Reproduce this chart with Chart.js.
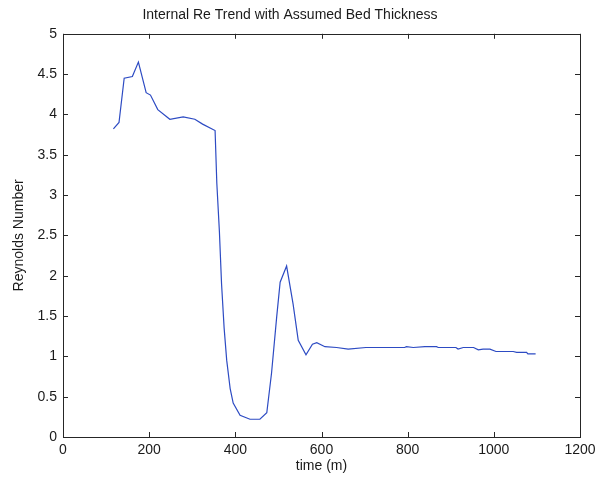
<!DOCTYPE html>
<html>
<head>
<meta charset="utf-8">
<title>Internal Re Trend</title>
<script src="https://cdn.jsdelivr.net/npm/chart.js@4/dist/chart.umd.min.js"></script>
<style>
  html, body { margin: 0; padding: 0; background: #fff; }
  #wrap { width: 597px; height: 483px; }
</style>
</head>
<body>
<div id="wrap"><canvas id="reChart" width="597" height="483"></canvas></div>
<script>
// time in minutes, Reynolds number at each sample
const timeMin = [117, 130, 142, 161, 175, 193, 203, 220, 248, 279, 306, 324, 353,
  357, 363, 368, 374, 380, 388, 395, 411, 434, 457, 473, 484, 496, 504, 519,
  534, 546, 564, 579, 589, 608, 635, 662, 703, 793, 797, 813, 840, 867, 871,
  912, 917, 929, 953, 964, 975, 991, 1005, 1045, 1053, 1076, 1079, 1097];
const reynolds = [3.82, 3.90, 4.45, 4.47, 4.65, 4.27, 4.24, 4.06, 3.94, 3.97, 3.94, 3.88, 3.80,
  3.15, 2.55, 1.90, 1.35, 0.95, 0.60, 0.42, 0.27, 0.22, 0.22, 0.30, 0.79, 1.49, 1.92, 2.12,
  1.65, 1.20, 1.02, 1.15, 1.17, 1.12, 1.11, 1.09, 1.11, 1.11, 1.12, 1.11, 1.12, 1.12, 1.11,
  1.11, 1.09, 1.11, 1.11, 1.08, 1.09, 1.09, 1.06, 1.06, 1.05, 1.05, 1.03, 1.03];

const xTicks = [0, 200, 400, 600, 800, 1000, 1200];
const yTicks = [0, 0.5, 1, 1.5, 2, 2.5, 3, 3.5, 4, 4.5, 5];

const FONT = 'Liberation Sans, Arial, sans-serif';
const TEXT_COLOR = '#1a1a1a';
const AXIS_COLOR = '#262626';

// box round the plot area with short ticks pointing inward on all four sides
const boxTicks = {
  id: 'boxTicks',
  afterDraw(chart) {
    const { ctx, chartArea: a, scales } = chart;
    const len = 5;
    ctx.save();
    ctx.strokeStyle = AXIS_COLOR;
    ctx.lineWidth = 1;
    ctx.beginPath();
    xTicks.forEach(v => {
      const x = Math.round(scales.x.getPixelForValue(v)) + 0.5;
      ctx.moveTo(x, a.bottom); ctx.lineTo(x, a.bottom - len);
      ctx.moveTo(x, a.top); ctx.lineTo(x, a.top + len);
    });
    yTicks.forEach(v => {
      const y = Math.round(scales.y.getPixelForValue(v)) + 0.5;
      ctx.moveTo(a.left, y); ctx.lineTo(a.left + len, y);
      ctx.moveTo(a.right, y); ctx.lineTo(a.right - len, y);
    });
    ctx.stroke();
    ctx.strokeRect(Math.round(a.left) + 0.5, Math.round(a.top) + 0.5,
      Math.round(a.right - a.left), Math.round(a.bottom - a.top));
    ctx.restore();
  }
};

const points = timeMin.map((t, i) => ({ x: t, y: reynolds[i] }));

new Chart(document.getElementById('reChart'), {
  type: 'scatter',
  data: {
    datasets: [{
      data: points,
      showLine: true,
      borderColor: 'rgb(45, 75, 195)',
      borderWidth: 1.2,
      pointRadius: 0,
      tension: 0
    }]
  },
  options: {
    responsive: false,
    animation: false,
    layout: { padding: { left: 0, right: 17, top: 0, bottom: 0 } },
    plugins: {
      legend: { display: false },
      tooltip: { enabled: false },
      title: {
        display: true,
        text: 'Internal Re Trend with Assumed Bed Thickness',
        color: TEXT_COLOR,
        font: { family: FONT, size: 14, weight: 'normal' },
        padding: { top: 7, bottom: 10 }
      }
    },
    scales: {
      x: {
        type: 'linear',
        min: 0,
        max: 1200,
        afterBuildTicks: s => { s.ticks = xTicks.map(v => ({ value: v })); },
        afterFit: s => {
          s.height = 46;
          // let the last label hang past the plot edge
          s.paddingLeft = 0;
          s.paddingRight = 0;
        },
        grid: { display: false, drawTicks: false },
        border: { display: false },
        ticks: {
          color: TEXT_COLOR,
          padding: 5,
          font: { family: FONT, size: 14 },
          callback: v => String(v)
        },
        title: {
          display: true,
          text: 'time (m)',
          color: TEXT_COLOR,
          font: { family: FONT, size: 14 },
          padding: { top: 0, bottom: 8 }
        }
      },
      y: {
        type: 'linear',
        min: 0,
        max: 5,
        afterBuildTicks: s => { s.ticks = yTicks.map(v => ({ value: v })); },
        afterFit: s => { s.width = 63; },
        grid: { display: false, drawTicks: false },
        border: { display: false },
        ticks: {
          color: TEXT_COLOR,
          padding: 6,
          font: { family: FONT, size: 14 },
          callback: v => String(v)
        },
        title: {
          display: true,
          text: 'Reynolds Number',
          color: TEXT_COLOR,
          font: { family: FONT, size: 14 },
          padding: { top: 11, bottom: 0 }
        }
      }
    }
  },
  plugins: [boxTicks]
});
</script>
</body>
</html>
